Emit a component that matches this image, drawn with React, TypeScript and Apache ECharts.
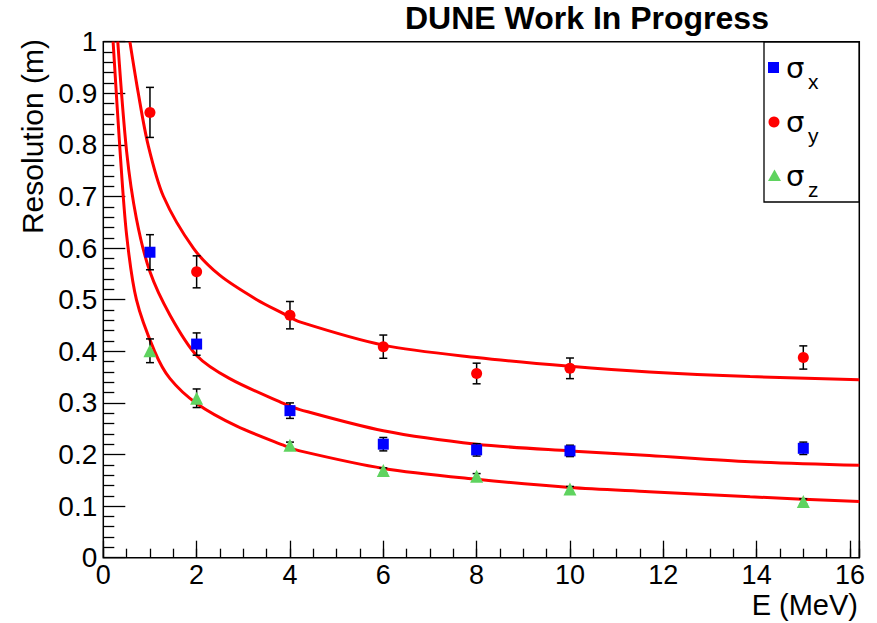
import React, { useEffect, useRef } from "react";
import * as echarts from "echarts";

// ---- data ----
const energies = [1, 2, 4, 6, 8, 10, 15];

const sigmaX = [0.592, 0.414, 0.285, 0.22, 0.209, 0.207, 0.212];
const sigmaXErr = [0.034, 0.0216, 0.015, 0.013, 0.012, 0.011, 0.012];

const sigmaY = [0.863, 0.554, 0.47, 0.409, 0.357, 0.367, 0.388];
const sigmaYErr = [0.0485, 0.031, 0.0265, 0.0225, 0.02, 0.02, 0.0225];

const sigmaZ = [0.401, 0.309, 0.218, 0.169, 0.158, 0.133, 0.109];
const sigmaZErr = [0.023, 0.018, 0.006, 0.005, 0.005, 0.005, 0.005];

// fit curves
const fitYE = [0.57, 0.75, 0.96, 1.29, 1.93, 2.5, 3.29, 3.86, 4.21, 6, 8, 10, 11.7, 13.86, 16.2];
const fitYV = [1.0, 0.9, 0.8, 0.7, 0.6, 0.547, 0.5, 0.473, 0.457, 0.412, 0.388, 0.371, 0.36, 0.351, 0.345];

const fitXE = [0.31, 0.5, 0.71, 1.0, 1.43, 2.0, 2.71, 3.86, 4.21, 6, 8, 10, 11.7, 13.86, 16.2];
const fitXV = [1.0, 0.787, 0.657, 0.554, 0.47, 0.392, 0.347, 0.299, 0.287, 0.246, 0.22, 0.207, 0.198, 0.186, 0.179];

const fitZE = [0.21, 0.36, 0.5, 0.71, 1.1, 1.43, 2.0, 2.86, 3.86, 4.21, 6, 8, 10, 11.7, 13.86, 16.2];
const fitZV = [1.0, 0.787, 0.625, 0.5, 0.4, 0.347, 0.299, 0.255, 0.218, 0.207, 0.173, 0.152, 0.136, 0.128, 0.118, 0.109];

const xMajorTicks = [0, 2, 4, 6, 8, 10, 12, 14, 16];

const FONT = '"Liberation Sans", Arial, Helvetica, sans-serif';
const SYMFONT = '"DejaVu Sans", "Liberation Sans", sans-serif';
const BLUE = "#0000ff";
const RED = "#ff0000";
const GREEN = "#5fd35f";

function pairs(xs: number[], ys: number[]) {
  return xs.map((x, i) => [x, ys[i]]);
}
function errRows(vals: number[], errs: number[]) {
  return energies.map((e, i) => [e, vals[i] - errs[i], vals[i] + errs[i]]);
}

const errorRender = (params: any, api: any) => {
  const x = api.value(0);
  const lo = api.coord([x, api.value(1)]);
  const hi = api.coord([x, api.value(2)]);
  const hw = 4;
  const style = { stroke: "#000", lineWidth: 1.5 };
  return {
    type: "group",
    children: [
      { type: "line", shape: { x1: lo[0], y1: lo[1], x2: hi[0], y2: hi[1] }, style },
      { type: "line", shape: { x1: lo[0] - hw, y1: lo[1], x2: lo[0] + hw, y2: lo[1] }, style },
      { type: "line", shape: { x1: hi[0] - hw, y1: hi[1], x2: hi[0] + hw, y2: hi[1] }, style },
    ],
  };
};

function fitSeries(name: string, xs: number[], ys: number[]) {
  return {
    name,
    type: "line",
    data: pairs(xs, ys),
    smooth: 0.3,
    showSymbol: false,
    symbol: "none",
    clip: true,
    lineStyle: { color: RED, width: 3 },
    z: 2,
  };
}

function errSeries(vals: number[], errs: number[]) {
  return {
    type: "custom",
    renderItem: errorRender,
    data: errRows(vals, errs),
    encode: { x: 0, y: [1, 2] },
    z: 3,
    silent: true,
  };
}

function markerSeries(name: string, vals: number[], symbol: string, size: number, color: string) {
  return {
    name,
    type: "scatter",
    data: pairs(energies, vals),
    symbol,
    symbolSize: size,
    itemStyle: { color, opacity: 1 },
    z: 4,
  };
}

export default function App() {
  const ref = useRef<HTMLDivElement>(null);

  useEffect(() => {
    if (!ref.current) return;
    const chart = echarts.init(ref.current, null, { renderer: "svg" });

    const legendRows = [
      { sub: "x", cy: 67.5 },
      { sub: "y", cy: 122 },
      { sub: "z", cy: 175.5 },
    ];

    const option: any = {
      animation: false,
      backgroundColor: "#ffffff",
      grid: {
        left: 103.3,
        right: 17.7,
        top: 41.7,
        bottom: 65.3,
        show: true,
        borderColor: "#000",
        borderWidth: 1.5,
        backgroundColor: "transparent",
      },
      xAxis: [
        {
          type: "value",
          min: 0,
          max: 16.2,
          interval: 2,
          position: "bottom",
          axisLine: { show: false },
          axisTick: { show: true, inside: true, length: 17, lineStyle: { color: "#000", width: 1.3 } },
          minorTick: { show: false },
          splitLine: { show: false },
          axisLabel: {
            fontSize: 27,
            lineHeight: 27,
            fontFamily: FONT,
            color: "#000",
            margin: 4,
            formatter: (v: number) => (xMajorTicks.indexOf(Math.round(v * 1000) / 1000) >= 0 ? String(v) : ""),
          },
        },
        {
          type: "value",
          min: 0,
          max: 16.2,
          interval: 0.5,
          position: "bottom",
          axisLine: { show: false },
          axisTick: { show: true, inside: true, length: 9, lineStyle: { color: "#000", width: 1.3 } },
          splitLine: { show: false },
          axisLabel: { show: false },
        },
      ],
      yAxis: {
        type: "value",
        min: 0,
        max: 1,
        interval: 0.1,
        axisLine: { show: false },
        axisTick: { show: true, inside: true, length: 22, lineStyle: { color: "#000", width: 1.3 } },
        minorTick: { show: true, splitNumber: 5, length: 11, lineStyle: { color: "#000", width: 1.3 } },
        splitLine: { show: false },
        minorSplitLine: { show: false },
        axisLabel: { fontSize: 28, fontFamily: FONT, color: "#000", margin: 6 },
      },
      series: [
        fitSeries("fitY", fitYE, fitYV),
        fitSeries("fitX", fitXE, fitXV),
        fitSeries("fitZ", fitZE, fitZV),
        errSeries(sigmaY, sigmaYErr),
        errSeries(sigmaX, sigmaXErr),
        errSeries(sigmaZ, sigmaZErr),
        markerSeries("σy", sigmaY, "circle", 11, RED),
        markerSeries("σx", sigmaX, "rect", 11, BLUE),
        markerSeries("σz", sigmaZ, "triangle", 13, GREEN),
      ],
      graphic: [
        {
          type: "text",
          x: 405,
          y: 18,
          z: 100,
          style: {
            text: "DUNE Work In Progress",
            fontSize: 32,
            fontWeight: "bold",
            fontFamily: FONT,
            fill: "#000",
            textAlign: "left",
            textVerticalAlign: "middle",
          },
        },
        {
          type: "text",
          x: 858,
          y: 605,
          z: 100,
          style: {
            text: "E (MeV)",
            fontSize: 29,
            fontFamily: FONT,
            fill: "#000",
            textAlign: "right",
            textVerticalAlign: "middle",
          },
        },
        {
          type: "text",
          x: 32,
          y: 39,
          rotation: Math.PI / 2,
          z: 100,
          style: {
            text: "Resolution (m)",
            fontSize: 30,
            fontFamily: FONT,
            fill: "#000",
            textAlign: "right",
            textVerticalAlign: "middle",
          },
        },
        {
          type: "rect",
          z: 100,
          shape: { x: 764, y: 42, width: 95, height: 160 },
          style: { fill: "#fff", stroke: "#000", lineWidth: 1.3 },
        },
        {
          type: "rect",
          z: 101,
          shape: { x: 768, y: 62, width: 11, height: 11 },
          style: { fill: BLUE },
        },
        {
          type: "circle",
          z: 101,
          shape: { cx: 774, cy: 122, r: 5.5 },
          style: { fill: RED },
        },
        {
          type: "polygon",
          z: 101,
          shape: { points: [[768, 181], [781, 181], [774.5, 169.5]] },
          style: { fill: GREEN },
        },
        ...legendRows.flatMap((r) => [
          {
            type: "text",
            x: 786,
            y: r.cy,
            z: 101,
            style: {
              text: "σ",
              fontSize: 29,
              fontFamily: SYMFONT,
              fill: "#000",
              textAlign: "left",
              textVerticalAlign: "middle",
            },
          },
          {
            type: "text",
            x: 808,
            y: r.cy + 13.5,
            z: 101,
            style: {
              text: r.sub,
              fontSize: 21,
              fontFamily: FONT,
              fill: "#000",
              textAlign: "left",
              textVerticalAlign: "middle",
            },
          },
        ]),
      ],
    };

    chart.setOption(option);
    return () => chart.dispose();
  }, []);

  return (
    <div
      ref={ref}
      style={{ position: "absolute", left: 0, top: 0, width: 877, height: 623, background: "#fff" }}
    />
  );
}
